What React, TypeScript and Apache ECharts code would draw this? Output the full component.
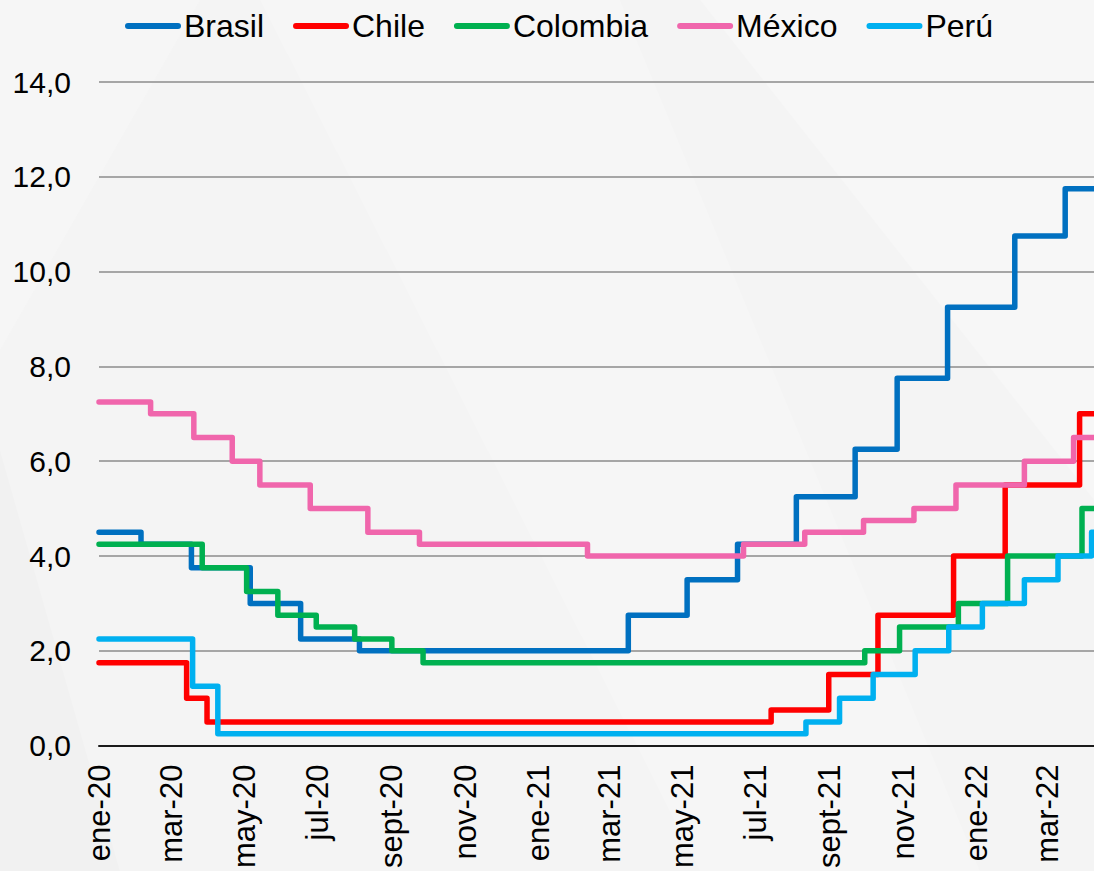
import React, { useEffect, useRef } from "react";
import * as echarts from "echarts";

// ---- Data (policy rates, %) ----
const seriesNames = ["Brasil", "Chile", "Colombia", "México", "Perú"];
const seriesColors = ["#0070C0", "#FF0000", "#00B050", "#F066AC", "#00B0F0"];

const startDate = "2020-01-01";
const endDate = "2022-04-09";

const brasilDates = ["2020-01-01", "2020-02-05", "2020-03-18", "2020-05-06", "2020-06-17", "2020-08-05", "2021-03-17", "2021-05-05", "2021-06-16", "2021-08-04", "2021-09-22", "2021-10-27", "2021-12-08", "2022-02-02", "2022-03-16", "2022-04-09"];
const brasilRates = [4.5, 4.25, 3.75, 3.0, 2.25, 2.0, 2.75, 3.5, 4.25, 5.25, 6.25, 7.75, 9.25, 10.75, 11.75, 11.75];

const chileDates = ["2020-01-01", "2020-03-14", "2020-03-31", "2021-07-14", "2021-08-31", "2021-10-11", "2021-12-13", "2022-01-25", "2022-03-28", "2022-04-09"];
const chileRates = [1.75, 1.0, 0.5, 0.75, 1.5, 2.75, 4.0, 5.5, 7.0, 7.0];

const colombiaDates = ["2020-01-01", "2020-03-27", "2020-05-03", "2020-05-29", "2020-06-30", "2020-08-01", "2020-09-01", "2020-09-27", "2021-09-30", "2021-10-29", "2021-12-17", "2022-01-27", "2022-03-30", "2022-04-09"];
const colombiaRates = [4.25, 3.75, 3.25, 2.75, 2.5, 2.25, 2.0, 1.75, 2.0, 2.5, 3.0, 4.0, 5.0, 5.0];

const mexicoDates = ["2020-01-01", "2020-02-13", "2020-03-20", "2020-04-21", "2020-05-14", "2020-06-25", "2020-08-12", "2020-09-24", "2021-02-11", "2021-06-21", "2021-08-11", "2021-09-29", "2021-11-10", "2021-12-15", "2022-02-10", "2022-03-23", "2022-04-09"];
const mexicoRates = [7.25, 7.0, 6.5, 6.0, 5.5, 5.0, 4.5, 4.25, 4.0, 4.25, 4.5, 4.75, 5.0, 5.5, 6.0, 6.5, 6.5];

const peruDates = ["2020-01-01", "2020-03-19", "2020-04-09", "2021-08-12", "2021-09-09", "2021-10-07", "2021-11-11", "2021-12-09", "2022-01-06", "2022-02-10", "2022-03-10", "2022-04-07", "2022-04-09"];
const peruRates = [2.25, 1.25, 0.25, 0.5, 1.0, 1.5, 2.0, 2.5, 3.0, 3.5, 4.0, 4.5, 4.5];

const xTickDates = ["2020-01-01", "2020-03-01", "2020-05-01", "2020-07-01", "2020-09-01", "2020-11-01", "2021-01-01", "2021-03-01", "2021-05-01", "2021-07-01", "2021-09-01", "2021-11-01", "2022-01-01", "2022-03-01"];
const xTickLabels = ["ene-20", "mar-20", "may-20", "jul-20", "sept-20", "nov-20", "ene-21", "mar-21", "may-21", "jul-21", "sept-21", "nov-21", "ene-22", "mar-22"];

const yMin = 0;
const yMax = 14;
const yInterval = 2;

const allDates = [brasilDates, chileDates, colombiaDates, mexicoDates, peruDates];
const allRates = [brasilRates, chileRates, colombiaRates, mexicoRates, peruRates];

const FONT = "'Liberation Sans', Arial, sans-serif";

export default function App() {
  const ref = useRef<HTMLDivElement>(null);

  useEffect(() => {
    if (!ref.current) return;
    const chart = echarts.init(ref.current, undefined, { renderer: "svg" });
    const tickTs = xTickDates.map((d) => Date.parse(d));

    const series = seriesNames.map((name, i) => ({
      name,
      type: "line",
      step: "end",
      symbol: "none",
      showSymbol: false,
      color: seriesColors[i],
      lineStyle: { width: 5.5, color: seriesColors[i], join: "round", cap: "round" },
      data: allDates[i].map((d, j) => [Date.parse(d), allRates[i][j]]),
      z: 2 + i,
    }));

    chart.setOption({
      animation: false,
      backgroundColor: "#F4F4F4",
      graphic: {
        elements: [
          { type: "polygon", z: -10, silent: true, shape: { points: [[260, 0], [620, 0], [980, 871], [700, 871]] }, style: { fill: "rgba(255,255,255,0.18)" } },
          { type: "polygon", z: -10, silent: true, shape: { points: [[700, 0], [1094, 0], [1094, 500]] }, style: { fill: "rgba(255,255,255,0.25)" } },
          { type: "polygon", z: -10, silent: true, shape: { points: [[0, 0], [200, 0], [0, 350]] }, style: { fill: "rgba(255,255,255,0.18)" } },
          { type: "polygon", z: -10, silent: true, shape: { points: [[0, 450], [120, 871], [0, 871]] }, style: { fill: "rgba(0,0,0,0.01)" } },
        ],
      },
      legend: {
        data: seriesNames,
        left: 125,
        top: 10,
        padding: 0,
        itemWidth: 56,
        itemHeight: 6,
        itemGap: 29,
        icon: "path://M3,0L53,0A3,3,0,0,1,53,6L3,6A3,3,0,0,1,3,0Z",
        itemStyle: { borderWidth: 0 },
        textStyle: { fontSize: 32, color: "#000", fontFamily: FONT, padding: [0, 0, 0, -2] },
      },
      grid: { left: 99, right: 0, top: 82, bottom: 125, containLabel: false },
      xAxis: {
        type: "value",
        min: Date.parse(startDate),
        max: Date.parse(endDate),
        axisLine: { show: true, lineStyle: { color: "#1a1a1a", width: 2 } },
        axisTick: { show: false },
        splitLine: { show: false },
        axisLabel: {
          customValues: tickTs,
          rotate: 90,
          margin: 19,
          fontSize: 31,
          color: "#000",
          fontFamily: FONT,
          showMinLabel: true,
          showMaxLabel: true,
          hideOverlap: false,
          formatter: (v: number) => {
            const idx = tickTs.indexOf(v);
            return idx >= 0 ? xTickLabels[idx] : "";
          },
        },
      },
      yAxis: {
        type: "value",
        min: yMin,
        max: yMax,
        interval: yInterval,
        axisLine: { show: false },
        axisTick: { show: false },
        splitLine: { show: true, lineStyle: { color: "#A6A6A6", width: 2 } },
        axisLabel: {
          margin: 28,
          fontSize: 30,
          color: "#000",
          fontFamily: FONT,
          formatter: (v: number) => v.toFixed(1).replace(".", ","),
        },
      },
      series,
    });

    return () => chart.dispose();
  }, []);

  return (
    <div
      ref={ref}
      style={{ position: "fixed", left: 0, top: 0, width: 1094, height: 871 }}
    />
  );
}
